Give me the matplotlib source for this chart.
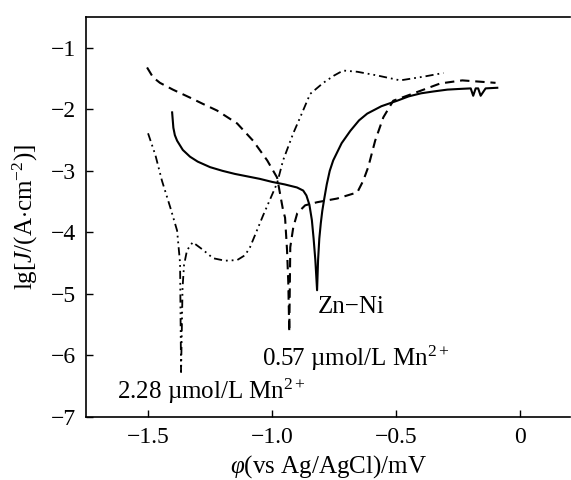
import numpy as np
import matplotlib
matplotlib.use("Agg")
import matplotlib.pyplot as plt

plt.rcParams['font.family'] = ['Liberation Serif', 'DejaVu Serif']
plt.rcParams['mathtext.fontset'] = 'custom'
plt.rcParams['mathtext.rm'] = 'Liberation Serif'
plt.rcParams['mathtext.it'] = 'Liberation Serif:italic'

# Zn-Ni (solid)
zn_x = [-1.403, -1.398, -1.392, -1.383, -1.36, -1.331, -1.30, -1.25, -1.20, -1.15,
        -1.10, -1.05, -1.00, -0.95, -0.90, -0.875, -0.862, -0.850, -0.840, -0.833,
        -0.826, -0.819, -0.815, -0.810, -0.804, -0.798, -0.790, -0.780, -0.768,
        -0.754, -0.72, -0.685, -0.65, -0.617, -0.56, -0.496, -0.45, -0.40, -0.35,
        -0.294, -0.25, -0.20, -0.19, -0.18, -0.17, -0.16, -0.15, -0.14, -0.093]
zn_y = [-2.05, -2.30, -2.42, -2.51, -2.66, -2.77, -2.85, -2.94, -3.00, -3.05,
        -3.09, -3.13, -3.18, -3.22, -3.27, -3.32, -3.40, -3.55, -3.80, -4.10,
        -4.45, -4.94, -4.45, -4.10, -3.85, -3.65, -3.45, -3.22, -3.00,
        -2.83, -2.55, -2.35, -2.18, -2.07, -1.95, -1.86, -1.79, -1.74, -1.71,
        -1.68, -1.67, -1.66, -1.78, -1.66, -1.66, -1.78, -1.72, -1.66, -1.65]

# 0.57 umol/L Mn2+ (dashed)
mn057_x = [-1.504, -1.48, -1.452, -1.40, -1.331, -1.28, -1.222, -1.141, -1.077, -1.02,
           -0.98, -0.956, -0.948, -0.940, -0.935, -0.931, -0.927, -0.915, -0.899,
           -0.867, -0.819, -0.738, -0.657, -0.633, -0.613, -0.585, -0.552, -0.512,
           -0.45, -0.403, -0.323, -0.234, -0.10]
mn057_y = [-1.32, -1.48, -1.57, -1.68, -1.81, -1.91, -2.02, -2.23, -2.51, -2.83,
           -3.11, -3.64, -3.76, -4.29, -4.82, -5.62, -4.24, -3.92, -3.69,
           -3.56, -3.51, -3.45, -3.35, -3.16, -2.94, -2.51, -2.13, -1.86,
           -1.77, -1.70, -1.58, -1.53, -1.57]

# 2.28 umol/L Mn2+ (dash-dot)
mn228_x = [-1.50, -1.47, -1.444, -1.41, -1.383, -1.371, -1.367, -1.361, -1.355,
           -1.343, -1.32, -1.28, -1.238, -1.19, -1.141, -1.109, -1.089, -1.036,
           -0.98, -0.956, -0.915, -0.887, -0.847, -0.794, -0.75, -0.714, -0.657,
           -0.577, -0.484, -0.391, -0.31]
mn228_y = [-2.39, -2.75, -3.16, -3.60, -3.97, -4.50, -6.27, -4.90, -4.53,
           -4.29, -4.16, -4.28, -4.42, -4.46, -4.45, -4.37, -4.24, -3.72,
           -3.20, -2.83, -2.39, -2.13, -1.75, -1.57, -1.45, -1.37, -1.39,
           -1.45, -1.53, -1.47, -1.41]

x_ticks = [-1.5, -1.0, -0.5, 0]
x_tick_labels = ['\u22121.5', '\u22121.0', '\u22120.5', '0']
y_ticks = [-1, -2, -3, -4, -5, -6, -7]
y_tick_labels = ['\u2212%d' % abs(v) for v in y_ticks]

fig = plt.figure(figsize=(5.71, 4.80), dpi=100)
ax = fig.add_axes([86 / 571, 63 / 480, 484 / 571, 400 / 480])

ax.plot(zn_x, zn_y, color='black', lw=1.5, linestyle='-')
ax.plot(mn057_x, mn057_y, color='black', lw=1.5, linestyle=(0, (4.5, 2.8)))
ax.plot(mn228_x, mn228_y, color='black', lw=1.3,
        linestyle=(0, (4.5, 2.2, 1, 2.2, 1, 2.2)))

ax.text(-0.815, -5.21, 'Zn\u2212Ni', fontsize=18, va='center', ha='left')
ax.text(-1.04, -6.04, '0.57 \u00b5mol/L Mn$^{2+}$', fontsize=18, va='center', ha='left')
ax.text(-1.625, -6.58, '2.28 \u00b5mol/L Mn$^{2+}$', fontsize=18, va='center', ha='left')

ax.set_xlim(-1.75, 0.2)
ax.set_ylim(-7, -0.5)
ax.set_xticks(x_ticks)
ax.set_xticklabels(x_tick_labels)
ax.set_yticks(y_ticks)
ax.set_yticklabels(y_tick_labels)
ax.tick_params(direction='in', length=5, width=1, labelsize=17, pad=7)
ax.spines['right'].set_visible(False)
for s in ['left', 'bottom', 'top']:
    ax.spines[s].set_linewidth(1.2)

ax.set_xlabel(r'$\it{\varphi}$(vs Ag/AgCl)/mV', fontsize=18, labelpad=4)
ax.set_ylabel(r'lg[$\it{J}$/(A$\cdot$cm$^{-2}$)]', fontsize=18, labelpad=8)

fig.savefig('out.png', dpi=100)
